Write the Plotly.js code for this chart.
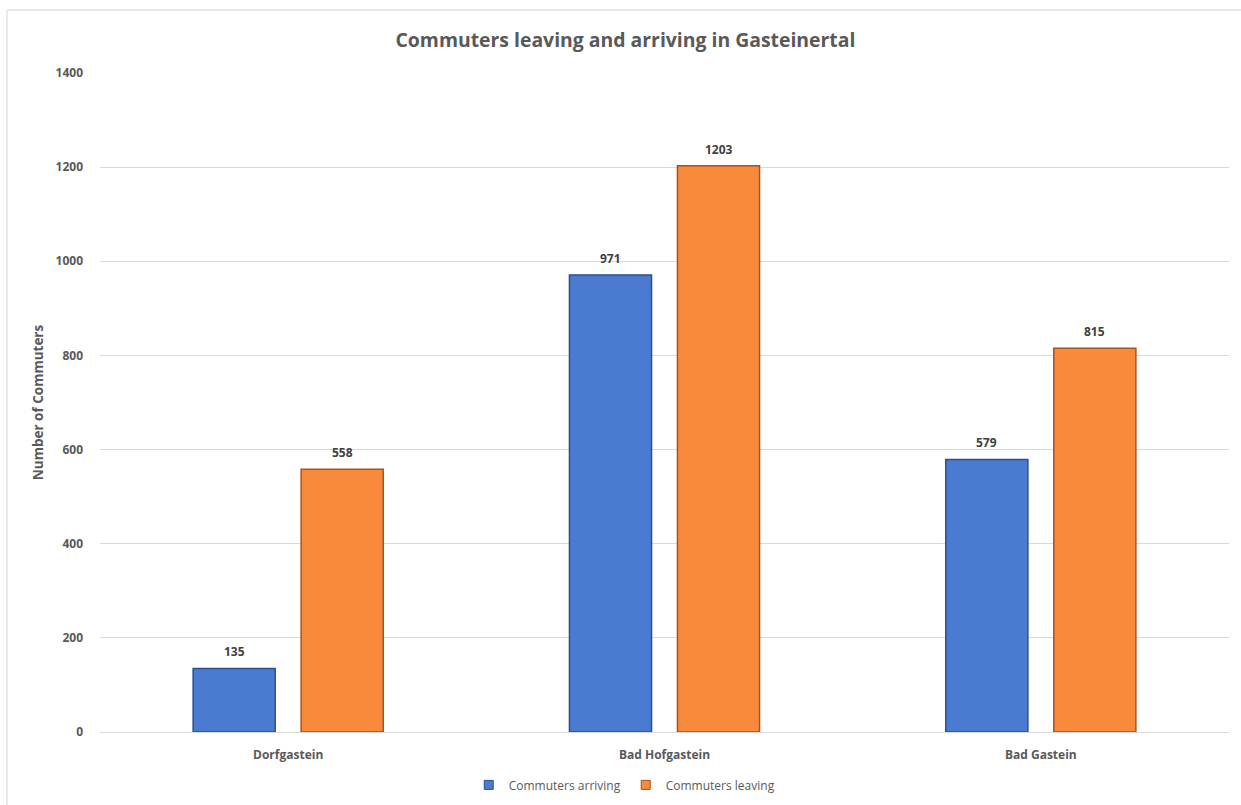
<!DOCTYPE html>
<html>
<head>
<meta charset="utf-8">
<script src="https://cdn.plot.ly/plotly-3.0.1.min.js"></script>
<style>html,body{margin:0;padding:0;background:#fff;}#chart{width:1241px;height:805px;}</style>
</head>
<body>
<div id="chart"></div>
<script>
const categories = ["Dorfgastein", "Bad Hofgastein", "Bad Gastein"];
const arriving = [135, 971, 579];
const leaving = [558, 1203, 815];
const seriesNames = ["Commuters arriving", "Commuters leaving"];
const yTicks = [0, 200, 400, 600, 800, 1000, 1200, 1400];

const FONT = "Open Sans, Liberation Sans, sans-serif";
const fills = ["#4a7bd0", "#f98a3b"];
const edges = ["#2c4f8e", "#a9511b"];
const seriesValues = [arriving, leaving];

const data = [];
seriesValues.forEach((vals, i) => {
  data.push({
    type: "bar",
    name: seriesNames[i],
    x: categories,
    y: vals,
    showlegend: false,
    marker: {color: fills[i], line: {color: edges[i], width: 1.5}},
    hoverinfo: "x+y+name"
  });
});
// legend-only entries with small square swatches
seriesValues.forEach((vals, i) => {
  data.push({
    type: "scatter",
    mode: "markers",
    name: seriesNames[i],
    x: [null],
    y: [null],
    marker: {symbol: "square", size: 9, color: fills[i], line: {color: edges[i], width: 1}},
    showlegend: true,
    hoverinfo: "skip"
  });
});

// value labels
const annotations = [];
const offsets = [-54, 54];
seriesValues.forEach((vals, i) => {
  vals.forEach((v, j) => {
    annotations.push({
      x: categories[j], y: v, xref: "x", yref: "y",
      text: "<b>" + v + "</b>",
      showarrow: false,
      xshift: offsets[i], yshift: 6,
      yanchor: "bottom", xanchor: "center",
      font: {family: FONT, size: 12, color: "#404040"}
    });
  });
});

const layout = {
  width: 1241,
  height: 805,
  margin: {l: 100, r: 12, t: 73, b: 73, autoexpand: false},
  paper_bgcolor: "#ffffff",
  plot_bgcolor: "#ffffff",
  barmode: "group",
  bargap: 0.426,
  bargroupgap: 0.24,
  title: {
    text: "<b>Commuters leaving and arriving in Gasteinertal</b>",
    font: {family: FONT, size: 19.4, color: "#595959"},
    x: 0.504, xanchor: "center", y: 0.95, yanchor: "middle"
  },
  xaxis: {
    type: "category",
    showgrid: false,
    showline: true,
    linecolor: "#d9d9d9",
    linewidth: 1,
    ticks: "",
    tickfont: {family: FONT, size: 12, color: "#595959", weight: "bold"},
    ticklabelstandoff: 12
  },
  yaxis: {
    range: [0, 1400],
    tickvals: yTicks,
    ticktext: yTicks.map(String),
    showgrid: true,
    gridcolor: "#d9d9d9",
    gridwidth: 1,
    zeroline: false,
    showline: false,
    ticks: "",
    ticklabelstandoff: 16,
    tickfont: {family: FONT, size: 12, color: "#595959", weight: "bold"},
    title: {text: "<b>Number of Commuters</b>", font: {family: FONT, size: 13.5, color: "#595959"}, standoff: 8}
  },
  legend: {
    orientation: "h",
    xref: "container", yref: "container",
    x: 0.503, xanchor: "center",
    y: 0.025, yanchor: "middle",
    font: {family: FONT, size: 12, color: "#595959"},
    itemwidth: 30,
    traceorder: "normal"
  },
  annotations: annotations,
  shapes: [
    {type: "line", xref: "paper", yref: "paper", x0: -0.0824, x1: 1.02, y0: 1.0956, y1: 1.0956, line: {color: "#e3e3e3", width: 1.5}},
    {type: "line", xref: "paper", yref: "paper", x0: -0.0824, x1: -0.0824, y0: 1.0956, y1: -0.12, line: {color: "#e3e3e3", width: 1.5}}
  ],
  showlegend: true
};

Plotly.newPlot("chart", data, layout, {displayModeBar: false, responsive: false});
</script>
</body>
</html>
